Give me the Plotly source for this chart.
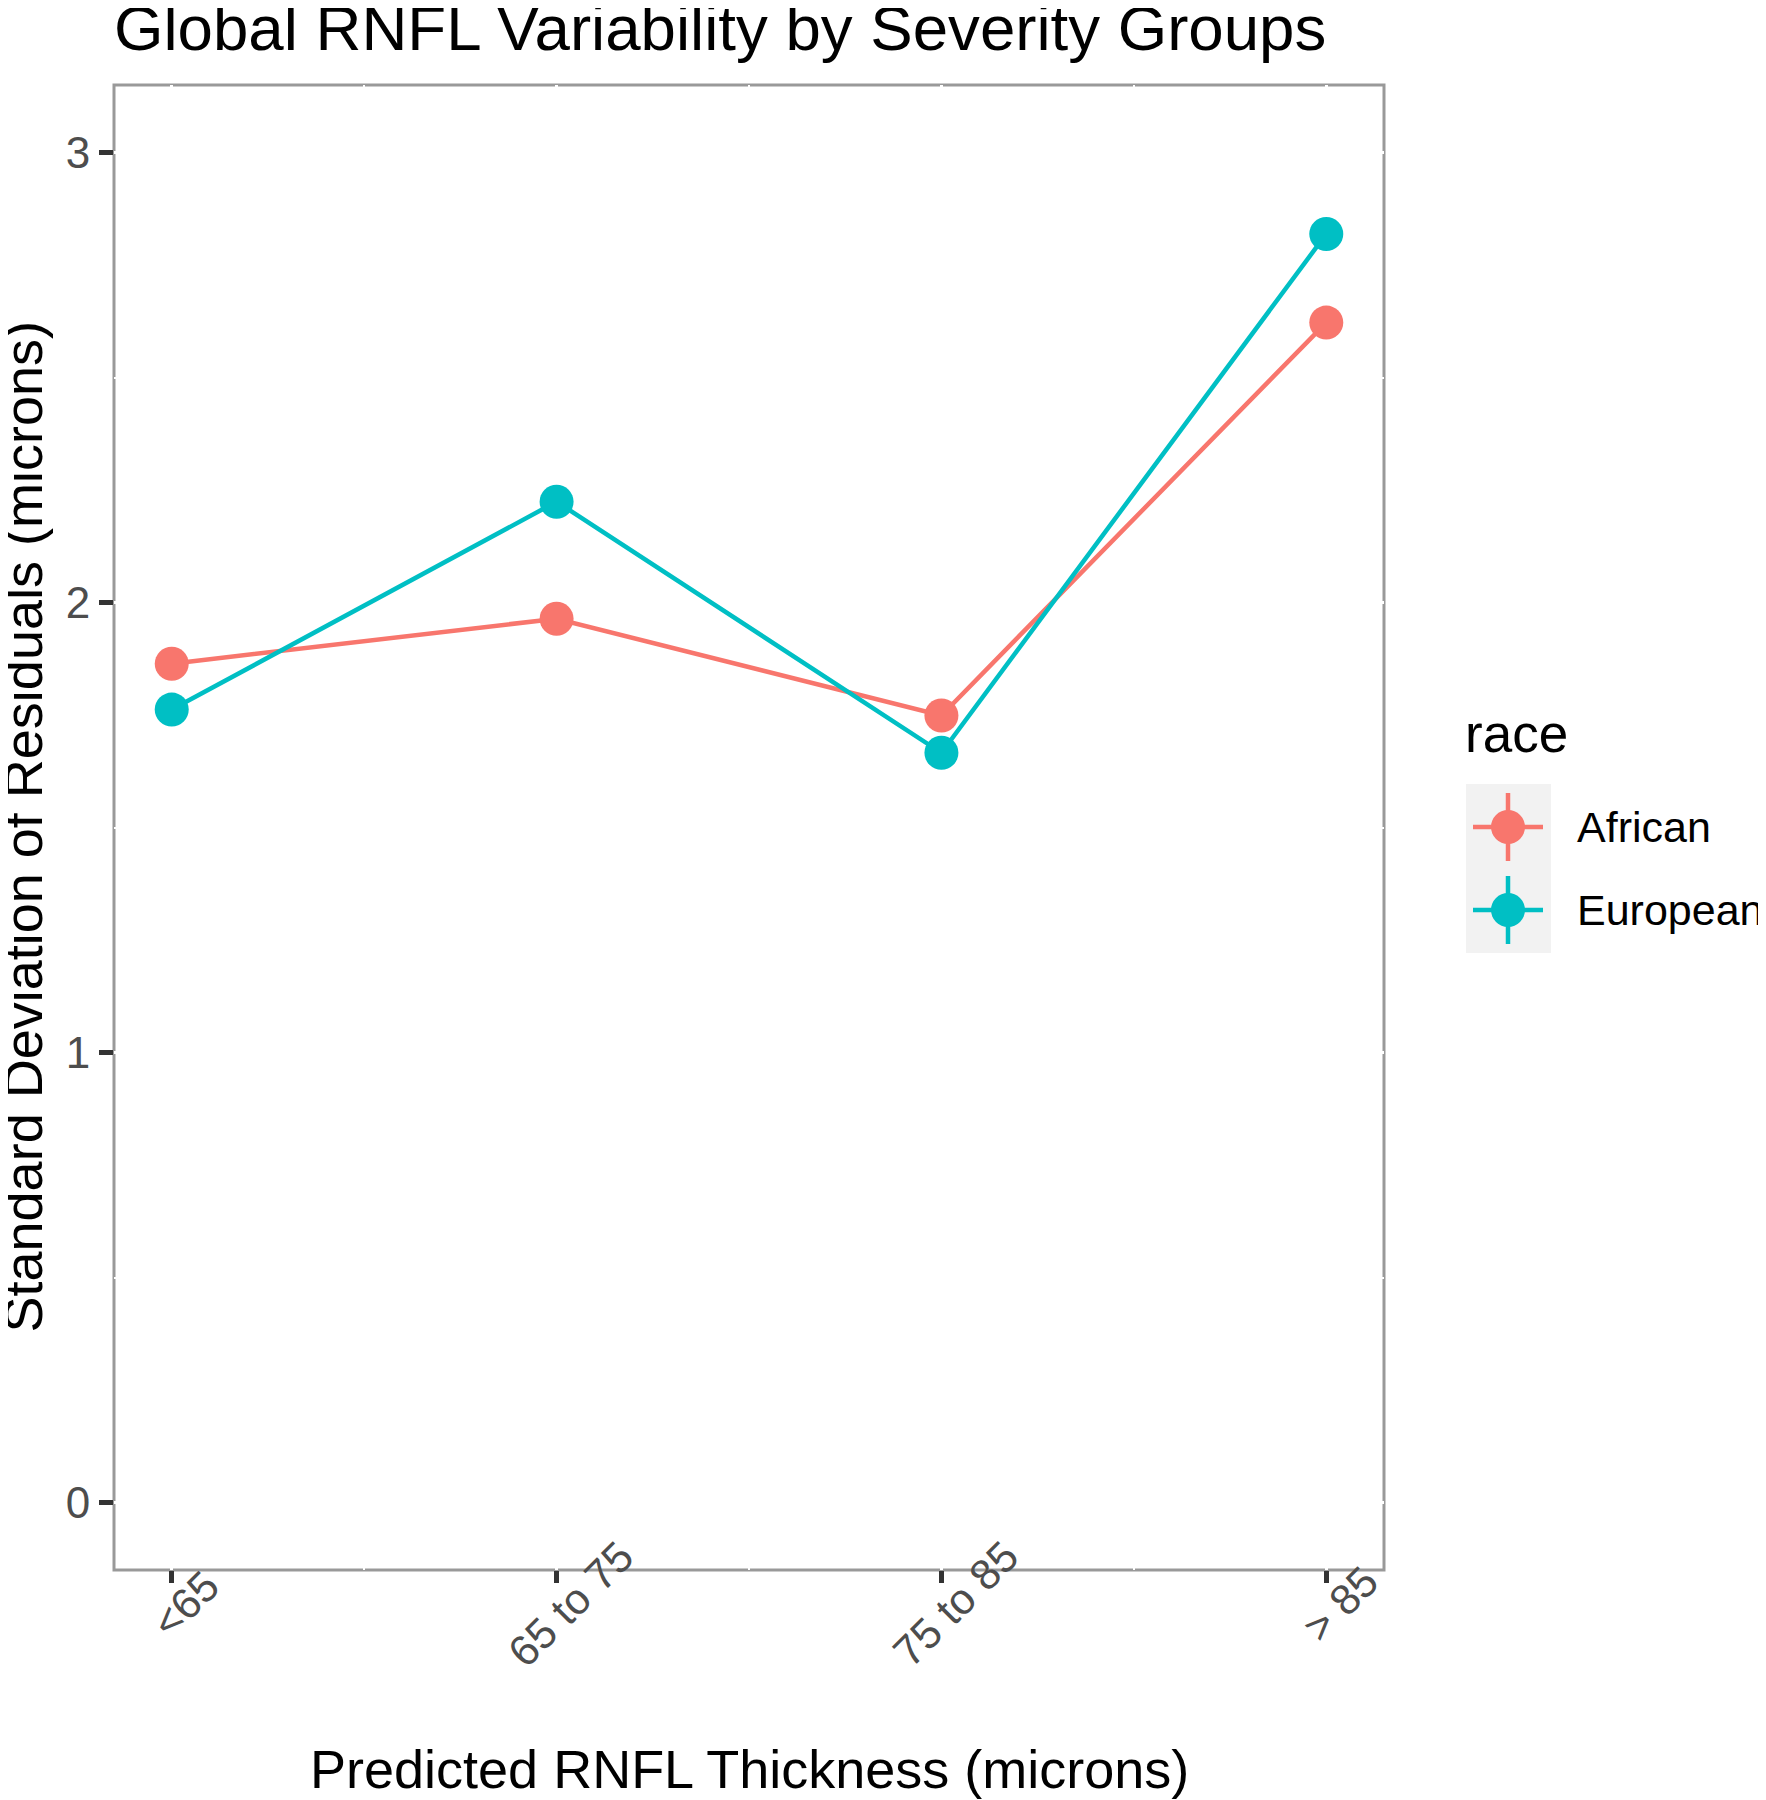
import plotly.graph_objects as go

categories = ["<65", "65 to 75", "75 to 85", "> 85"]
african = [1.864, 1.964, 1.749, 2.622]
european = [1.762, 2.224, 1.666, 2.819]
series_names = ["African", "European"]
series_colors = ["#F8766D", "#00BFC4"]
y_ticks = [0, 1, 2, 3]

FONT = "Liberation Sans, Arial, sans-serif"
OFF = 8  # the page body margin shifts the figure by 8px; compensate
W, H = 1766 - OFF, 1800 - OFF
# panel edges in screen pixels
P_L, P_R, P_T, P_B = 114, 1384, 85, 1570
ML, MR, MT, MB = P_L - OFF, 1766 - P_R, P_T - OFF, 1800 - P_B
PW, PH = W - ML - MR, H - MT - MB


def px_x(px):  # screen px -> paper x
    return (px - P_L) / PW


def px_y(py):  # screen py -> paper y
    return (P_B - py) / PH


x_idx = list(range(len(categories)))

fig = go.Figure()
for name, vals, col in zip(series_names, [african, european], series_colors):
    fig.add_trace(go.Scatter(
        x=x_idx, y=vals, name=name, mode="lines+markers",
        line=dict(color=col, width=4.5),
        marker=dict(color=col, size=34),
        showlegend=False,
    ))

shapes = []
# panel border (below white gridlines, so gridlines cut it like the reference)
shapes.append(dict(type="rect", xref="paper", yref="paper", x0=0, y0=0, x1=1, y1=1,
                   line=dict(color="#999999", width=3), fillcolor="rgba(0,0,0,0)", layer="below"))

annotations = []
# x tick labels, rotated about their centre like ggplot's angle=45
for i, lab in enumerate(categories):
    annotations.append(dict(text=lab, x=i, xref="x", y=px_y(1604), yref="paper",
                            xshift=14, textangle=-45, showarrow=False,
                            xanchor="center", yanchor="middle",
                            font=dict(size=43, color="#4D4D4D", family=FONT)))
# axis titles
annotations.append(dict(text="Predicted RNFL Thickness (microns)", x=0.5, xref="paper",
                        y=px_y(1769), yref="paper", showarrow=False, xanchor="center", yanchor="middle",
                        font=dict(size=54, color="black", family=FONT)))
annotations.append(dict(text="Standard Deviation of Residuals (microns)", x=px_x(22), xref="paper",
                        y=0.5, yref="paper", showarrow=False, xanchor="center", yanchor="middle",
                        textangle=-90, font=dict(size=54, color="black", family=FONT)))

# legend (ggplot style: grey key background, point with cross of lines)
annotations.append(dict(text="race", x=px_x(1463), xref="paper", y=px_y(733), yref="paper",
                        showarrow=False, xanchor="left", yanchor="middle",
                        font=dict(size=53, color="black", family=FONT)))
shapes.append(dict(type="rect", xref="paper", yref="paper",
                   x0=px_x(1466), x1=px_x(1551), y0=px_y(953), y1=px_y(784),
                   line=dict(width=0), fillcolor="#F2F2F2", layer="above"))
key_y = [827, 910]
for name, col, ky in zip(series_names, series_colors, key_y):
    cx = 1508
    shapes.append(dict(type="line", xref="paper", yref="paper", x0=px_x(cx - 35), x1=px_x(cx + 35),
                       y0=px_y(ky), y1=px_y(ky), line=dict(color=col, width=4.5), layer="above"))
    shapes.append(dict(type="line", xref="paper", yref="paper", x0=px_x(cx), x1=px_x(cx),
                       y0=px_y(ky - 34), y1=px_y(ky + 34), line=dict(color=col, width=4.5), layer="above"))
    shapes.append(dict(type="circle", xref="paper", yref="paper", x0=px_x(cx - 17), x1=px_x(cx + 17),
                       y0=px_y(ky + 17), y1=px_y(ky - 17), line=dict(width=0), fillcolor=col, layer="above"))
    annotations.append(dict(text=name, x=px_x(1575), xref="paper", y=px_y(ky), yref="paper",
                            showarrow=False, xanchor="left", yanchor="middle",
                            font=dict(size=43, color="black", family=FONT)))

fig.update_layout(
    width=W, height=H,
    margin=dict(l=ML, r=MR, t=MT, b=MB, autoexpand=False),
    paper_bgcolor="white", plot_bgcolor="white",
    font=dict(family=FONT, color="black"),
    title=dict(text="Global RNFL Variability by Severity Groups", font=dict(size=63.6, color="black"),
               x=(114 - OFF) / W, xanchor="left", y=1 - (28 - OFF) / H, yanchor="middle"),
    showlegend=False,
    shapes=shapes,
    annotations=annotations,
)
fig.update_xaxes(
    range=[-0.15, 3.15], tickmode="array", tickvals=x_idx, ticktext=categories,
    showticklabels=False, automargin=False,
    ticks="outside", ticklen=12, tickwidth=5, tickcolor="#333333",
    showgrid=True, gridcolor="white", gridwidth=3,
    minor=dict(tickmode="array", tickvals=[0.5, 1.5, 2.5], showgrid=True, gridcolor="white", gridwidth=2, ticks=""),
    showline=False, zeroline=False,
)
fig.update_yaxes(
    range=[-0.15, 3.15], tickmode="array", tickvals=y_ticks, automargin=False,
    tickfont=dict(size=44, color="#4D4D4D", family=FONT),
    ticks="outside", ticklen=14, tickwidth=5, tickcolor="#333333",
    showgrid=True, gridcolor="white", gridwidth=3,
    minor=dict(tickmode="array", tickvals=[0.5, 1.5, 2.5], showgrid=True, gridcolor="white", gridwidth=2, ticks=""),
    showline=False, zeroline=False,
)
fig.write_html("out.html")
